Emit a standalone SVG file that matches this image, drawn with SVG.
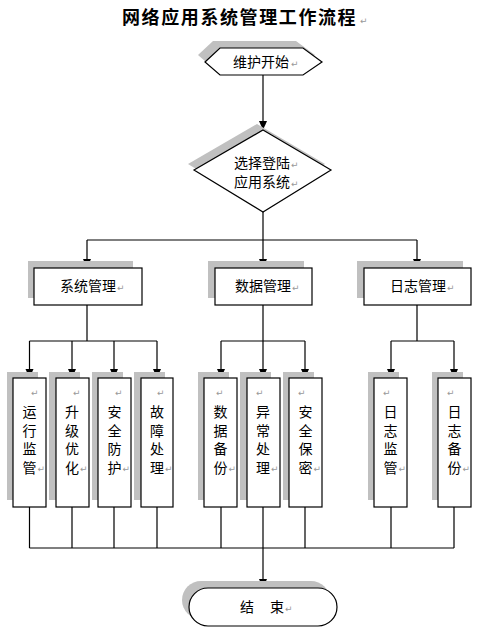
<svg xmlns="http://www.w3.org/2000/svg" width="498" height="642" viewBox="0 0 498 642">
<style>
.t{font-family:"Noto Sans CJK SC","Noto Sans",sans-serif;font-size:14px;fill:#000}
.ttl{font-family:"Noto Sans CJK SC","Noto Sans",sans-serif;font-size:18px;font-weight:bold;letter-spacing:1.6px;fill:#000}
.rm{font-family:"DejaVu Sans",sans-serif;font-size:9px;fill:#999}
.sh{fill:#c0c0c0;stroke:none}
.bx{fill:#fff;stroke:#000;stroke-width:1.2}
.ln{fill:none;stroke:#000;stroke-width:1.2}
.ah{fill:#000;stroke:none}
.v{text-anchor:middle}
</style>
<defs>
<polygon id="arr" class="ah" points="-4,-9 4,-9 0,0"/>
</defs>
<rect width="498" height="642" fill="#fff"/>
<text class="ttl" x="122" y="24">网络应用系统管理工作流程</text><text class="rm" x="360" y="24">↵</text>

<g id="connectors">
<path class="ln" d="M263,75 V122"/>
<path class="ln" d="M263,212 V240"/>
<path class="ln" d="M87,240 H417"/>
<path class="ln" d="M87,240 V260 M263,240 V260 M417,240 V260"/>
<path class="ln" d="M87,305 V341 M29.5,341 H157 M263,305 V341 M221,341 H305 M417,305 V341 M391,341 H454"/>
<path class="ln" d="M29.5,341 V370 M72,341 V370 M114,341 V370 M157,341 V370 M221,341 V370 M263,341 V370 M305,341 V370 M391,341 V370 M454,341 V370"/>
<path class="ln" d="M29.5,507 V548 M72,507 V548 M114,507 V548 M157,507 V548 M221,507 V548 M263,507 V548 M305,507 V548 M391,507 V548 M454,507 V548 M29.5,548 H454"/>
<path class="ln" d="M263,548 V580"/>
<use href="#arr" x="263" y="130"/>
<use href="#arr" x="87" y="268"/>
<use href="#arr" x="263" y="268"/>
<use href="#arr" x="417" y="268"/>
<use href="#arr" x="29.5" y="378"/>
<use href="#arr" x="72" y="378"/>
<use href="#arr" x="114" y="378"/>
<use href="#arr" x="157" y="378"/>
<use href="#arr" x="221" y="378"/>
<use href="#arr" x="263" y="378"/>
<use href="#arr" x="305" y="378"/>
<use href="#arr" x="391" y="378"/>
<use href="#arr" x="454" y="378"/>
<use href="#arr" x="263" y="588"/>
</g>

<g id="start">
<polygon class="sh" points="198,55 213,41 296,41 315,55 296,68 213,68"/>
<polygon class="bx" points="205,62 220,48 303,48 322,62 303,75 220,75"/>
<text class="t" x="233" y="67">维护开始</text><text class="rm" x="291" y="67">↵</text>
</g>

<g id="select">
<polygon class="sh" points="257,124 325,164 257,206 188,164"/>
<polygon class="bx" points="263,130 331,170 263,212 194,170"/>
<text class="t" x="234" y="168">选择登陆</text><text class="rm" x="291" y="168">↵</text>
<text class="t" x="234" y="187">应用系统</text><text class="rm" x="291" y="187">↵</text>
</g>

<g id="sysmgmt">
<rect class="sh" x="28" y="261" width="105" height="37"/>
<rect class="bx" x="34" y="268" width="108" height="37"/>
<text class="t" x="60" y="291">系统管理</text><text class="rm" x="117" y="291">↵</text>
</g>
<g id="datamgmt">
<rect class="sh" x="208" y="261" width="96" height="37"/>
<rect class="bx" x="215" y="268" width="97" height="37"/>
<text class="t" x="235" y="291">数据管理</text><text class="rm" x="292" y="291">↵</text>
</g>
<g id="logmgmt">
<rect class="sh" x="357" y="261" width="106" height="37"/>
<rect class="bx" x="364" y="268" width="107" height="37"/>
<text class="t" x="390" y="291">日志管理</text><text class="rm" x="447" y="291">↵</text>
</g>

<g id="n1">
<rect class="sh" x="7" y="372" width="31" height="128"/>
<rect class="bx" x="13" y="378" width="33" height="129"/>
<text class="rm" x="31" y="396">↵</text>
<text class="t v" x="29.5" y="417">运</text><text class="t v" x="29.5" y="435.5">行</text><text class="t v" x="29.5" y="454">监</text><text class="t v" x="29.5" y="472.5">管</text><text class="rm" x="37.5" y="472">↵</text>
</g>
<g id="n2">
<rect class="sh" x="49" y="372" width="31" height="128"/>
<rect class="bx" x="56" y="378" width="33" height="129"/>
<text class="rm" x="73" y="396">↵</text>
<text class="t v" x="72" y="417">升</text><text class="t v" x="72" y="435.5">级</text><text class="t v" x="72" y="454">优</text><text class="t v" x="72" y="472.5">化</text><text class="rm" x="80" y="472">↵</text>
</g>
<g id="n3">
<rect class="sh" x="92" y="372" width="31" height="128"/>
<rect class="bx" x="98" y="378" width="33" height="129"/>
<text class="rm" x="115" y="396">↵</text>
<text class="t v" x="114.5" y="417">安</text><text class="t v" x="114.5" y="435.5">全</text><text class="t v" x="114.5" y="454">防</text><text class="t v" x="114.5" y="472.5">护</text><text class="rm" x="122.5" y="472">↵</text>
</g>
<g id="n4">
<rect class="sh" x="134" y="372" width="31" height="128"/>
<rect class="bx" x="141" y="378" width="32" height="129"/>
<text class="rm" x="157" y="396">↵</text>
<text class="t v" x="157" y="417">故</text><text class="t v" x="157" y="435.5">障</text><text class="t v" x="157" y="454">处</text><text class="t v" x="157" y="472.5">理</text><text class="rm" x="165" y="472">↵</text>
</g>
<g id="n5">
<rect class="sh" x="198" y="372" width="31" height="128"/>
<rect class="bx" x="204" y="378" width="33" height="129"/>
<text class="rm" x="216" y="396">↵</text>
<text class="t v" x="220.5" y="417">数</text><text class="t v" x="220.5" y="435.5">据</text><text class="t v" x="220.5" y="454">备</text><text class="t v" x="220.5" y="472.5">份</text><text class="rm" x="228.5" y="472">↵</text>
</g>
<g id="n6">
<rect class="sh" x="240" y="372" width="31" height="128"/>
<rect class="bx" x="247" y="378" width="33" height="129"/>
<text class="rm" x="256" y="396">↵</text>
<text class="t v" x="263" y="417">异</text><text class="t v" x="263" y="435.5">常</text><text class="t v" x="263" y="454">处</text><text class="t v" x="263" y="472.5">理</text><text class="rm" x="271" y="472">↵</text>
</g>
<g id="n7">
<rect class="sh" x="283" y="372" width="31" height="128"/>
<rect class="bx" x="289" y="378" width="33" height="129"/>
<text class="rm" x="298" y="396">↵</text>
<text class="t v" x="305.5" y="417">安</text><text class="t v" x="305.5" y="435.5">全</text><text class="t v" x="305.5" y="454">保</text><text class="t v" x="305.5" y="472.5">密</text><text class="rm" x="313.5" y="472">↵</text>
</g>
<g id="n8">
<rect class="sh" x="368" y="372" width="31" height="128"/>
<rect class="bx" x="374" y="378" width="33" height="129"/>
<text class="rm" x="383" y="396">↵</text>
<text class="t v" x="390.5" y="417">日</text><text class="t v" x="390.5" y="435.5">志</text><text class="t v" x="390.5" y="454">监</text><text class="t v" x="390.5" y="472.5">管</text><text class="rm" x="398.5" y="472">↵</text>
</g>
<g id="n9">
<rect class="sh" x="432" y="372" width="31" height="128"/>
<rect class="bx" x="438" y="378" width="33" height="129"/>
<text class="rm" x="447" y="396">↵</text>
<text class="t v" x="454.5" y="417">日</text><text class="t v" x="454.5" y="435.5">志</text><text class="t v" x="454.5" y="454">备</text><text class="t v" x="454.5" y="472.5">份</text><text class="rm" x="462.5" y="472">↵</text>
</g>

<g id="end">
<rect class="sh" x="182" y="581" width="148" height="38" rx="19"/>
<rect class="bx" x="189" y="588" width="148" height="38" rx="19"/>
<text class="t" x="240" y="612">结</text><text class="t" x="270" y="612">束</text><text class="rm" x="285" y="612">↵</text>
</g>
</svg>
